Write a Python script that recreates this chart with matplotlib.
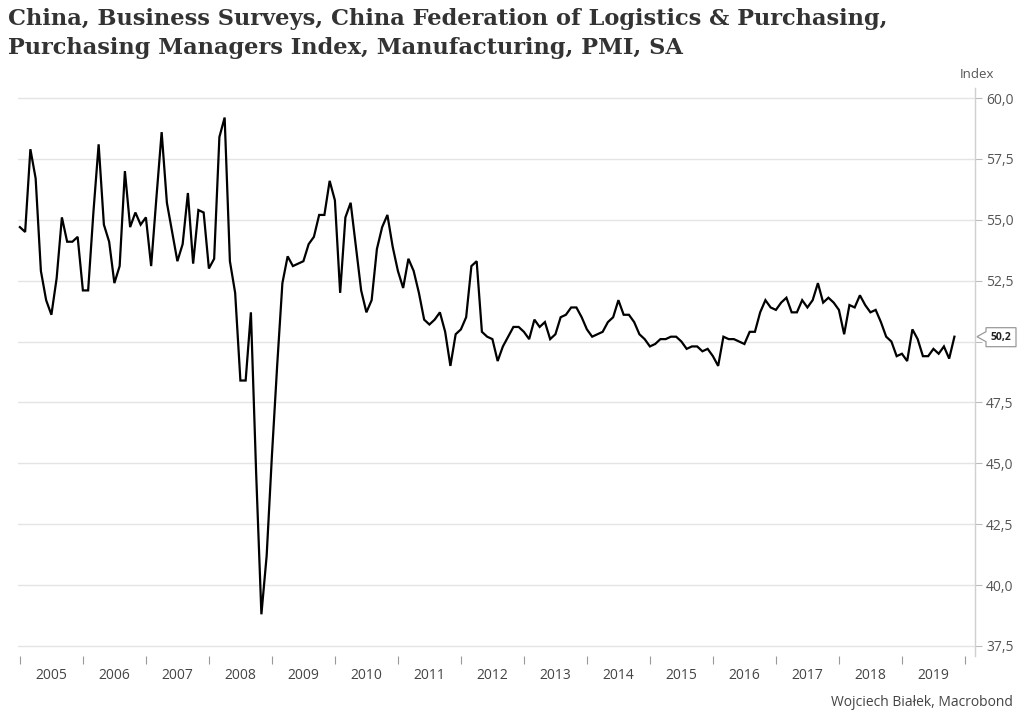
import matplotlib
matplotlib.use("Agg")
import matplotlib.pyplot as plt
import numpy as np
from matplotlib.patches import Polygon

# ---- data ----
start_year = 2005
pmi = [
    54.7, 54.5, 57.9, 56.7, 52.9, 51.7, 51.1, 52.6, 55.1, 54.1, 54.1, 54.3,
    52.1, 52.1, 55.3, 58.1, 54.8, 54.1, 52.4, 53.1, 57.0, 54.7, 55.3, 54.8,
    55.1, 53.1, 55.9, 58.6, 55.7, 54.5, 53.3, 54.0, 56.1, 53.2, 55.4, 55.3,
    53.0, 53.4, 58.4, 59.2, 53.3, 52.0, 48.4, 48.4, 51.2, 44.6, 38.8, 41.2,
    45.3, 49.0, 52.4, 53.5, 53.1, 53.2, 53.3, 54.0, 54.3, 55.2, 55.2, 56.6,
    55.8, 52.0, 55.1, 55.7, 53.9, 52.1, 51.2, 51.7, 53.8, 54.7, 55.2, 53.9,
    52.9, 52.2, 53.4, 52.9, 52.0, 50.9, 50.7, 50.9, 51.2, 50.4, 49.0, 50.3,
    50.5, 51.0, 53.1, 53.3, 50.4, 50.2, 50.1, 49.2, 49.8, 50.2, 50.6, 50.6,
    50.4, 50.1, 50.9, 50.6, 50.8, 50.1, 50.3, 51.0, 51.1, 51.4, 51.4, 51.0,
    50.5, 50.2, 50.3, 50.4, 50.8, 51.0, 51.7, 51.1, 51.1, 50.8, 50.3, 50.1,
    49.8, 49.9, 50.1, 50.1, 50.2, 50.2, 50.0, 49.7, 49.8, 49.8, 49.6, 49.7,
    49.4, 49.0, 50.2, 50.1, 50.1, 50.0, 49.9, 50.4, 50.4, 51.2, 51.7, 51.4,
    51.3, 51.6, 51.8, 51.2, 51.2, 51.7, 51.4, 51.7, 52.4, 51.6, 51.8, 51.6,
    51.3, 50.3, 51.5, 51.4, 51.9, 51.5, 51.2, 51.3, 50.8, 50.2, 50.0, 49.4,
    49.5, 49.2, 50.5, 50.1, 49.4, 49.4, 49.7, 49.5, 49.8, 49.3, 50.2,
]
years = list(range(2005, 2020))
y_ticks = [37.5, 40.0, 42.5, 45.0, 47.5, 50.0, 52.5, 55.0, 57.5, 60.0]

title = ("China, Business Surveys, China Federation of Logistics & Purchasing,\n"
         "Purchasing Managers Index, Manufacturing, PMI, SA")
unit_label = "Index"
source = "Wojciech Białek, Macrobond"

# ---- figure ----
W, H = 1024, 724
fig = plt.figure(figsize=(W / 100, H / 100), dpi=100)
fig.patch.set_facecolor("white")

ax_l, ax_r = 18, 975
ax_t, ax_b = 88.3, 655.7
ax = fig.add_axes([ax_l / W, 1 - ax_b / H, (ax_r - ax_l) / W, (ax_b - ax_t) / H])

x = start_year + np.arange(len(pmi)) / 12.0
ax.plot(x, pmi, color="black", lw=1.6, solid_joinstyle="miter", zorder=3)

ax.set_xlim(2004.97, 2020.16)
ax.set_ylim(37.1, 60.4)

for s in ["top", "left", "bottom"]:
    ax.spines[s].set_visible(False)
ax.spines["right"].set_color("#d0d0d0")
ax.spines["right"].set_linewidth(1.0)

last = pmi[-1]
ax.yaxis.tick_right()
ax.set_yticks(y_ticks)
ax.set_yticklabels(["" if abs(v - last) < 1.0 else f"{v:.1f}".replace(".", ",")
                    for v in y_ticks])
ax.tick_params(axis="y", which="major", length=5, width=0.8, color="#bbbbbb",
               labelcolor="#555555", labelsize=10, pad=3)
for lab in ax.get_yticklabels():
    lab.set_fontfamily("Open Sans")
ax.grid(axis="y", color="#e4e4e4", lw=1.0, zorder=0)

# x ticks at year boundaries, labels mid-year
ax.set_xticks(years + [years[-1] + 1])
ax.set_xticklabels([])
ax.set_xticks([yr + 0.5 for yr in years], minor=True)
ax.set_xticklabels([str(yr) for yr in years], minor=True)
ax.tick_params(axis="x", which="major", length=6, width=0.8, color="#999999", direction="out")
ax.tick_params(axis="x", which="minor", length=0, labelcolor="#444444", labelsize=10, pad=9)
for lab in ax.get_xticklabels(minor=True):
    lab.set_fontfamily("Open Sans")

# last value callout
px_x = 1.0 / (ax_r - ax_l)        # one pixel in axes fraction
px_y = (60.4 - 37.1) / (ax_b - ax_t)  # one pixel in data units
tr = ax.get_yaxis_transform()
verts = [
    (1 + 2 * px_x, last),
    (1 + 11 * px_x, last + 5 * px_y),
    (1 + 11 * px_x, last + 9 * px_y),
    (1 + 41 * px_x, last + 9 * px_y),
    (1 + 41 * px_x, last - 10 * px_y),
    (1 + 11 * px_x, last - 10 * px_y),
    (1 + 11 * px_x, last - 5 * px_y),
]
ax.add_patch(Polygon(verts, closed=True, transform=tr, facecolor="white",
                     edgecolor="#999999", lw=0.9, clip_on=False, zorder=10))
ax.text(1 + 26 * px_x, last - 0.5 * px_y, f"{last:.1f}".replace(".", ","), transform=tr,
        ha="center", va="center", fontsize=7.5, fontweight="bold", color="#222222",
        family="Open Sans", zorder=11, clip_on=False)

# texts
fig.text(8 / W, 1 - 8 / H, title, ha="left", va="top", fontsize=16.2, fontweight="bold",
         family="DejaVu Serif", color="#333333", linespacing=1.4)
fig.text(977 / W, 1 - 75 / H, unit_label, ha="center", va="center", fontsize=9.5,
         color="#555555", family="Open Sans")
fig.text(1013 / W, 1 - 703 / H, source, ha="right", va="center", fontsize=10,
         color="#444444", family="Open Sans")

fig.savefig("out.png", dpi=100)
